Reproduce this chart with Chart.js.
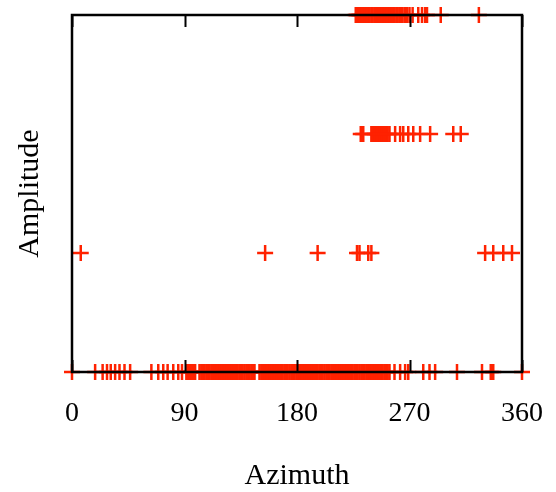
<!DOCTYPE html>
<html>
<head>
<meta charset="utf-8">
<script src="https://cdn.jsdelivr.net/npm/chart.js@4/dist/chart.umd.min.js"></script>
<style>
html,body{margin:0;padding:0;background:#fff;}
canvas{display:block;}
</style>
</head>
<body>
<canvas id="c" width="556" height="492"></canvas>
<script>
// Amplitude levels
const levels = [0, 1, 2, 3];
// Azimuth values (degrees) for each amplitude level
const az0 = [0, 18.5, 24.5, 28, 31, 34.5, 38, 42, 46.5, 63.5, 69, 73, 76.5, 81, 85, 88,
  91.5, 93, 94.5, 96, 97.5, 98.5, 102, 103.5, 105, 106, 107.5, 109, 110, 111.5, 113, 114.5,
  116, 117, 118.5, 120, 121.5, 122.5, 124, 125.5, 127, 128, 129.5, 131, 132.5, 134, 135,
  136.5, 138, 139.5, 141, 142, 143.5, 145, 146, 150, 151.5, 153, 154.5, 156, 157, 158.5,
  160, 161.5, 162.5, 164, 165.5, 167, 168.5, 170, 171, 172.5, 174, 175.5, 177, 178, 179.5,
  181, 182.5, 184, 185, 186.5, 188, 189.5, 191, 192, 193.5, 195, 196.5, 198, 199, 200.5,
  202, 203.5, 205, 206, 207.5, 209, 210.5, 212, 213, 214.5, 216, 217.5, 219, 220, 221.5,
  223, 224.5, 226, 227, 228.5, 230, 231.5, 233, 234, 235.5, 237, 238.5, 240, 241, 242.5,
  244, 245.5, 247, 248.5, 250, 251, 252.5, 254, 258, 262.5, 266.5, 269,
  281, 286, 290.5, 308, 328, 335, 337, 360];
const az1 = [7, 154.5, 196.5, 228, 230, 237, 239.5, 330.5, 337, 345, 352];
const az2 = [231, 233, 239.5, 241, 242.5, 244, 245, 246.5, 248, 249.5, 251, 252.5, 254,
  258.5, 262.5, 265, 269, 273, 278.5, 286.5, 305, 311];
const az3 = [227, 228, 229.5, 230.5, 232, 233, 234.5, 235.5, 237, 238, 239.5, 240.5, 242,
  243, 244.5, 245.5, 247, 248, 249.5, 250.5, 252, 253, 254.5, 255.5, 257, 258, 259.5, 260.5,
  262, 263, 264.5, 266.5, 268, 270, 272.5, 277, 280, 282.5, 284, 295, 325.5];
const xTicks = [0, 90, 180, 270, 360];

const groups = [az0, az1, az2, az3];
const points = [];
groups.forEach((arr, i) => arr.forEach(a => points.push({x: a, y: levels[i]})));

const RED = 'rgb(255,34,0)';
const FONT = 'Liberation Serif';

const frame = {
  id: 'frame',
  afterDatasetsDraw(chart) {
    const {ctx, chartArea: a, scales: {x}} = chart;
    ctx.save();
    ctx.strokeStyle = '#000';
    ctx.lineWidth = 2.5;
    ctx.strokeRect(a.left, a.top, a.right - a.left, a.bottom - a.top);
    ctx.lineWidth = 2;
    xTicks.forEach(v => {
      const px = Math.round(x.getPixelForValue(v)) + 0.5;
      ctx.beginPath();
      ctx.moveTo(px, a.bottom); ctx.lineTo(px, a.bottom - 12);
      ctx.moveTo(px, a.top); ctx.lineTo(px, a.top + 12);
      ctx.stroke();
    });
    ctx.restore();
  }
};

new Chart(document.getElementById('c'), {
  type: 'scatter',
  data: {
    datasets: [{
      data: points,
      pointStyle: 'cross',
      pointRadius: 8,
      pointHoverRadius: 8,
      borderWidth: 2.5,
      borderColor: RED,
      backgroundColor: RED,
      clip: false
    }]
  },
  options: {
    responsive: false,
    animation: false,
    events: [],
    layout: {padding: {top: 15, right: 34, left: 0, bottom: 0}},
    plugins: {legend: {display: false}, tooltip: {enabled: false}},
    scales: {
      x: {
        type: 'linear', min: 0, max: 360,
        afterBuildTicks(s) { s.ticks = xTicks.map(v => ({value: v})); },
        afterFit(s) { s.height = 120; s.paddingLeft = 0; s.paddingRight = 0; },
        grid: {display: false, drawTicks: false},
        border: {display: false},
        ticks: {color: '#000', padding: 25, font: {family: FONT, size: 28}, maxRotation: 0,
          callback: v => String(v)},
        title: {display: true, text: 'Azimuth', color: '#000',
          font: {family: FONT, size: 30, lineHeight: 1.0}, padding: {top: 0, bottom: 1}}
      },
      y: {
        type: 'linear', min: 0, max: 3,
        afterFit(s) { s.width = 72; s.paddingTop = 0; s.paddingBottom = 0; },
        grid: {display: false, drawTicks: false},
        border: {display: false},
        ticks: {display: false},
        title: {display: true, text: 'Amplitude', color: '#000',
          font: {family: FONT, size: 30, lineHeight: 1.0}, padding: {top: 15, bottom: 0}}
      }
    }
  },
  plugins: [frame]
});
</script>
</body>
</html>
